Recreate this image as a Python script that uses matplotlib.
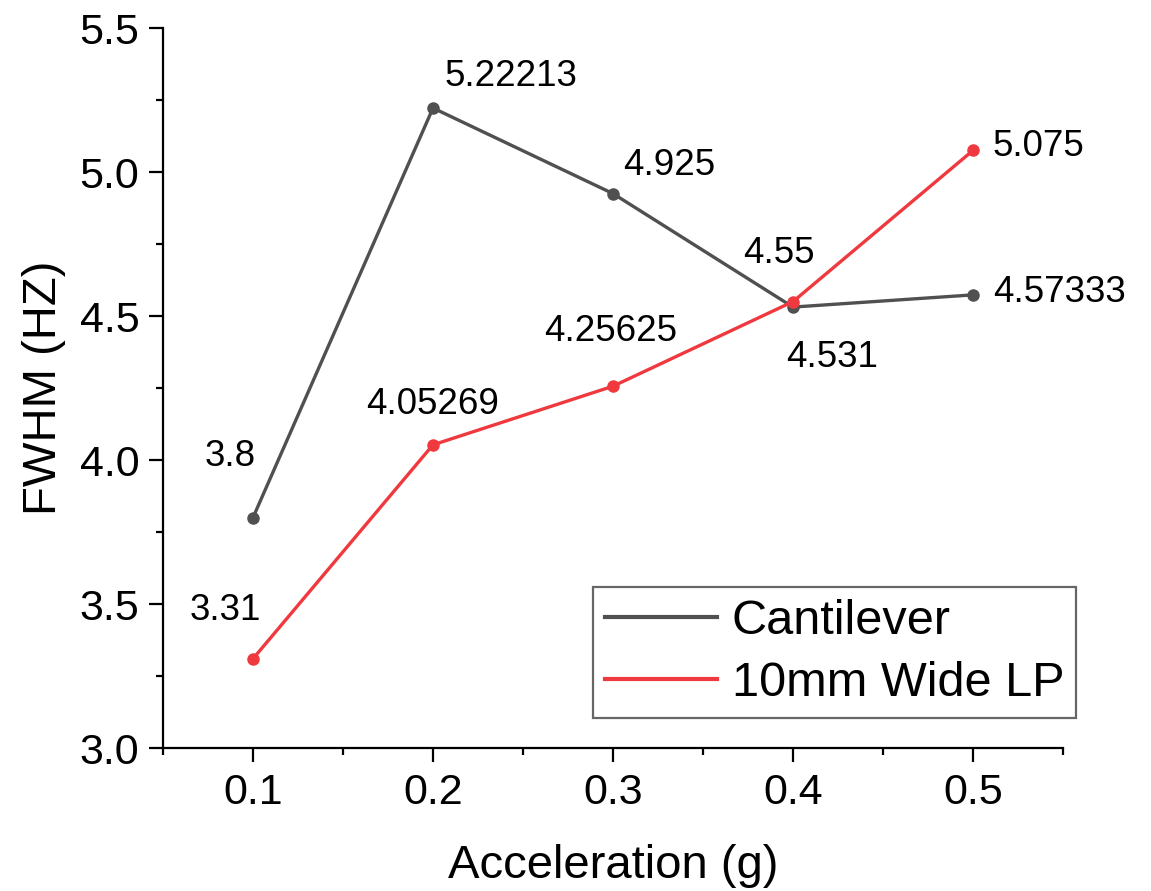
import matplotlib.pyplot as plt
from matplotlib.ticker import MultipleLocator

# data
accel = [0.1, 0.2, 0.3, 0.4, 0.5]
cantilever = [3.8, 5.22213, 4.925, 4.531, 4.57333]
wide_lp = [3.31, 4.05269, 4.25625, 4.55, 5.075]
cant_labels = ['3.8', '5.22213', '4.925', '4.531', '4.57333']
lp_labels = ['3.31', '4.05269', '4.25625', '4.55', '5.075']

# label offsets in pixels (text centre relative to point)
cant_offsets = [(-23, 61), (78, 32), (56, 28), (39, -50), (87, 2)]
lp_offsets = [(-28, 48), (0, 40), (-2, 55), (-14, 48), (65, 4)]

plt.rcParams['font.family'] = ['Liberation Sans', 'DejaVu Sans']

fig = plt.figure(figsize=(11.51, 8.91), dpi=100)
ax = fig.add_axes([163 / 1151, 1 - 748 / 891, (1063 - 163) / 1151, (748 - 28) / 891])

gray = '#505050'
red = '#F0393F'
ax.plot(accel, cantilever, color=gray, lw=2.4, marker='o', ms=8, label='Cantilever')
ax.plot(accel, wide_lp, color=red, lw=2.4, marker='o', ms=8, label='10mm Wide LP')

for x, y, t, off in zip(accel, cantilever, cant_labels, cant_offsets):
    ax.annotate(t, (x, y), xytext=off, textcoords='offset pixels',
                ha='center', va='center', fontsize=26.5)
for x, y, t, off in zip(accel, wide_lp, lp_labels, lp_offsets):
    ax.annotate(t, (x, y), xytext=off, textcoords='offset pixels',
                ha='center', va='center', fontsize=26.5)

ax.set_xlim(0.05, 0.55)
ax.set_ylim(3.0, 5.5)
ax.xaxis.set_major_locator(MultipleLocator(0.1))
ax.xaxis.set_minor_locator(MultipleLocator(0.05))
ax.yaxis.set_major_locator(MultipleLocator(0.5))
ax.yaxis.set_minor_locator(MultipleLocator(0.25))
ax.xaxis.set_major_formatter(plt.FormatStrFormatter('%.1f'))
ax.yaxis.set_major_formatter(plt.FormatStrFormatter('%.1f'))

for s in ['top', 'right']:
    ax.spines[s].set_visible(False)
for s in ['left', 'bottom']:
    ax.spines[s].set_linewidth(1.6)

ax.tick_params(which='major', direction='out', length=10, width=1.6, labelsize=31)
ax.tick_params(which='minor', direction='out', length=5, width=1.6)
ax.tick_params(axis='x', which='major', pad=8)
ax.tick_params(axis='y', which='major', pad=7)

ax.set_xlabel('Acceleration (g)', fontsize=34, labelpad=22)
ax.set_ylabel('FWHM (HZ)', fontsize=34, labelpad=10)

leg = ax.legend(loc='upper left', bbox_to_anchor=(593 / 1151, 1 - 587 / 891),
                bbox_transform=fig.transFigure, fontsize=35, frameon=True,
                fancybox=False, handlelength=2.3, handletextpad=0.3,
                borderaxespad=0, borderpad=0.25, labelspacing=0.35)
leg.get_frame().set_edgecolor('#404040')
leg.get_frame().set_linewidth(1.6)
for h in leg.legend_handles:
    h.set_marker('')
    h.set_linewidth(3)

fig.savefig('out.png', dpi=100)
